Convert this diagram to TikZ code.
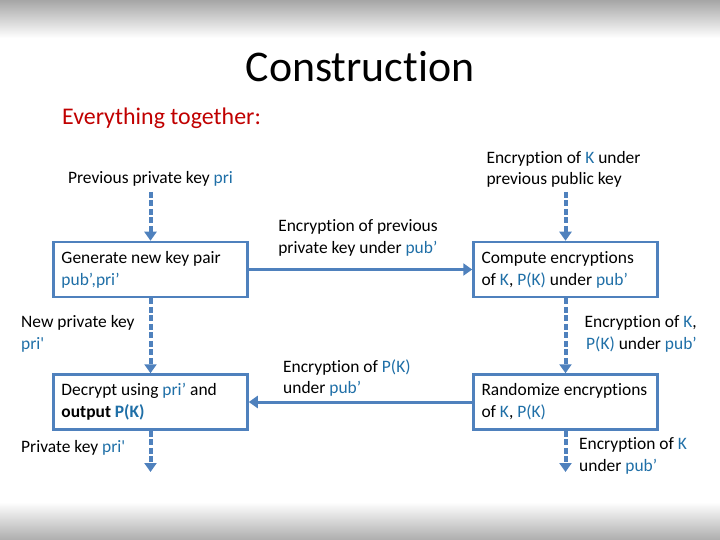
\documentclass[tikz,border=0pt]{standalone}
\usepackage{fontspec}
\setmainfont[Ligatures={TeX,NoCommon}]{Carlito}
\usetikzlibrary{arrows.meta, positioning}
\definecolor{slideblue}{RGB}{79,129,189}
\definecolor{keyblue}{RGB}{31,111,167}
\definecolor{slidered}{RGB}{192,0,0}
\newcommand{\kb}[1]{\textcolor{keyblue}{#1}}
\newcommand{\sq}{\textquotesingle}

\begin{document}
\begin{tikzpicture}[
    x=1bp, y=-1bp,
    stepbox/.style={
        rectangle,
        draw=slideblue,
        line width=2.5bp,
        fill=white,
        minimum height=55bp,
        inner xsep=8bp,
        align=flush left,
        font=\fontsize{17.5}{22}\selectfont
    },
    lbl/.style={inner sep=1bp, align=flush left, font=\fontsize{17.5}{22}\selectfont},
    flow/.style={-{Triangle[width=12bp, length=9bp]}, line width=3bp, draw=slideblue},
    keyflow/.style={-{Triangle[width=12bp, length=9bp]}, line width=4bp, draw=slideblue, dash pattern=on 6bp off 2.5bp}
]
    % slide background
    \useasboundingbox (0,0) rectangle (720,540);
    \shade[top color=black!35, bottom color=white] (0,0) rectangle (720,38);
    \shade[top color=white, bottom color=black!32] (0,502) rectangle (720,540);

    \node[font=\fontsize{44}{50}\selectfont] (title) at (360,67) {Construction};
    \node[anchor=west, text=slidered, font=\fontsize{24}{28}\selectfont, inner sep=0pt] (sub) at (62,118) {Everything together:};

    % boxes
    \node[stepbox, text width=178bp] (gen) at (150.5,269.5) {Generate new key pair\\\kb{pub’,pri’}};
    \node[stepbox, text width=168bp] (cmp) at (565.5,269.5) {Compute encryptions\\of \kb{K}, \kb{P(K)} under \kb{pub’}};
    \node[stepbox, text width=178bp] (dec) at (150.5,402) {Decrypt using \kb{pri’} and\\\textbf{output \kb{P(K)}}};
    \node[stepbox, text width=168bp] (rnd) at (565.5,402) {Randomize encryptions\\of \kb{K}, \kb{P(K)}};

    \coordinate (priin) at (150.5,192);
    \coordinate (priout) at (150.5,472);
    \coordinate (kin) at (565.5,192);
    \coordinate (kout) at (565.5,472);

    % inputs and outputs
    \node[lbl, above=4bp of priin] (prilbl) {Previous private key \kb{pri}};
    \node[lbl, above=3bp of kin, xshift=-2bp] (klbl) {Encryption of \kb{K} under\\previous public key};
    \node[lbl, anchor=west] (newpri) at (20,334) {New private key\\\kb{pri\sq}};
    \node[lbl, anchor=west] (outpri) at (20,448) {Private key \kb{pri\sq}};
    \node[lbl, anchor=east, align=flush right] (encpub) at (698,334) {Encryption of \kb{K},\\\kb{P(K)} under \kb{pub’}};
    \node[lbl, anchor=west] (outk) at (578,456) {Encryption of \kb{K}\\under \kb{pub’}};
    \node[lbl] (encprev) at (358,238) {Encryption of previous\\private key under \kb{pub’}};
    \node[lbl, anchor=west] (encpk) at (282,378) {Encryption of \kb{P(K)}\\under \kb{pub’}};

    \draw[keyflow] (priin) -- (gen);
    \draw[keyflow] (gen) -- (dec);
    \draw[keyflow] (dec) -- (priout);
    \draw[keyflow] (kin) -- (cmp);
    \draw[keyflow] (cmp) -- (rnd);
    \draw[keyflow] (rnd) -- (kout);
    \draw[flow] (gen) -- (cmp);
    \draw[flow] (rnd) -- (dec);
\end{tikzpicture}
\end{document}
